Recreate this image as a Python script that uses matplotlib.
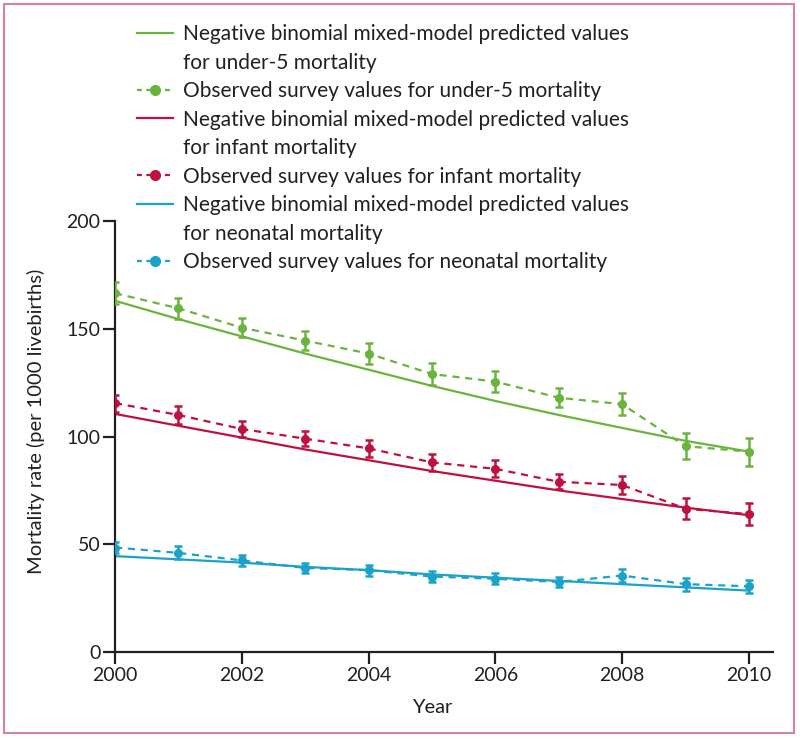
import matplotlib
matplotlib.use('Agg')
import matplotlib.pyplot as plt
from matplotlib.lines import Line2D
from matplotlib.patches import Rectangle

plt.rcParams['font.family'] = ['Lato', 'DejaVu Sans']
plt.rcParams['text.color'] = '#231f20'
plt.rcParams['axes.labelcolor'] = '#231f20'

years = [2000, 2001, 2002, 2003, 2004, 2005, 2006, 2007, 2008, 2009, 2010]

u5_obs = [166.5, 159.5, 150.5, 144.5, 138.5, 129, 125.5, 118, 115, 95.5, 93]
u5_err = [5, 5, 4.5, 4.5, 5, 5, 5, 4.5, 5, 6, 6.5]
u5_pred = [163, 154.5, 146.5, 138.5, 131, 123.5, 116.5, 110, 104, 98, 93]

inf_obs = [115.5, 110, 103.5, 99, 94.5, 88, 85, 79, 77.5, 66.5, 64]
inf_err = [4, 4, 3.5, 3.5, 4, 4, 4, 3.5, 4, 5, 5]
inf_pred = [110.5, 105, 99.5, 94, 89, 84, 79.5, 75, 71, 67, 63.5]

neo_obs = [48.5, 46, 42.5, 39, 38, 35, 34, 32.5, 35.5, 31.5, 30.5]
neo_err = [2.5, 3, 2.5, 2.5, 2.5, 2.5, 2.5, 2.5, 3, 3, 3]
neo_pred = [44.5, 43, 41.5, 39.5, 38, 36, 34.5, 33, 31.5, 30, 28.5]

green = '#6ab43e'
red = '#c0103f'
blue = '#1ba2c9'
dark = '#231f20'

fig = plt.figure(figsize=(8, 7.39), dpi=100)
ax = fig.add_axes([0.14375, 0.1177, 0.8225, 0.5832])

series = [
    (u5_pred, u5_obs, u5_err, green, 'under-5 mortality'),
    (inf_pred, inf_obs, inf_err, red, 'infant mortality'),
    (neo_pred, neo_obs, neo_err, blue, 'neonatal mortality'),
]

handles = []
labels = []
blank = Line2D([], [], color='none')
for pred, obs, err, col, name in series:
    ax.plot(years, pred, color=col, lw=1.6, zorder=2)
    ax.errorbar(years, obs, yerr=err, color=col, fmt='o', ls=(0, (3.2, 2.6)), lw=1.6,
                ms=5.5, elinewidth=1.8, capsize=3.2, capthick=1.8, zorder=3)
    handles += [Line2D([], [], color=col, lw=1.6), blank,
                Line2D([], [], color=col, lw=1.6, ls=(0, (2.2, 2.0)), marker='o', ms=7)]
    labels += ['Negative binomial mixed-model predicted values', 'for ' + name,
               'Observed survey values for ' + name]

ax.set_xlim(2000, 2010.38)
ax.set_ylim(0, 200)
ax.set_xticks([2000, 2002, 2004, 2006, 2008, 2010])
ax.set_yticks([0, 50, 100, 150, 200])
for s in ['top', 'right']:
    ax.spines[s].set_visible(False)
for s in ['left', 'bottom']:
    ax.spines[s].set_color(dark)
    ax.spines[s].set_linewidth(1.6)
ax.spines['left'].set_bounds(0, 200)
ax.tick_params(axis='both', length=8.5, width=1.6, color=dark, labelsize=14,
               labelcolor=dark, pad=2)

ax.set_xlabel('Year', fontsize=14.5)
ax.set_ylabel('Mortality rate (per 1000 livebirths)', fontsize=14.5)
ax.xaxis.set_label_coords(0.482, -0.11)
ax.yaxis.set_label_coords(-0.106, 0.536)

fig.legend(handles, labels, loc='upper left', bbox_to_anchor=(0.171, 0.9675),
           frameon=False, fontsize=15, handlelength=1.73, handletextpad=0.48,
           labelspacing=0.41, borderpad=0, borderaxespad=0)

fig.patches.append(Rectangle((0.005, 0.008), 0.988, 0.986, transform=fig.transFigure,
                             fill=False, edgecolor='#d8819b', lw=1.5))

fig.savefig('out.png', dpi=100)
